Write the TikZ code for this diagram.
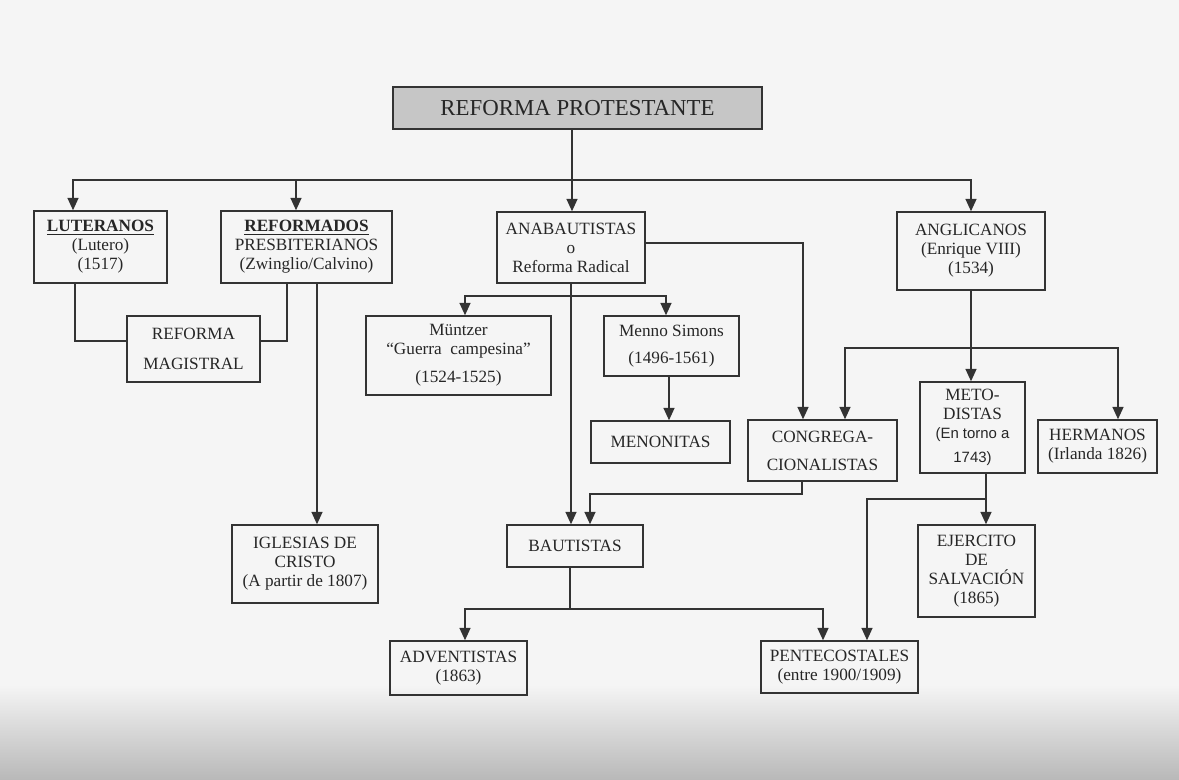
\documentclass[tikz,border=0pt]{standalone}
\usepackage{fontspec}
\setmainfont{Liberation Serif}
\newfontfamily\arialfont{Liberation Sans}
\usetikzlibrary{arrows.meta}

\begin{document}
\begin{tikzpicture}[
    x=0.02cm, y=-0.02cm,
    box/.style={draw=black!80, line width=0.85pt, align=center, inner sep=0pt, text=black!85, font=\fontsize{9.8}{10.8}\selectfont},
    titlebox/.style={box, fill=gray!45, font=\fontsize{13}{15}\selectfont},
    link/.style={draw=black!80, line width=0.85pt},
    arrow/.style={link, -{Triangle[length=7pt, width=6.2pt]}}
]

% page
\useasboundingbox (0,0) rectangle (1179,779);
\fill[gray!8] (0,0) rectangle (1179,779);
\shade[top color=gray!8, bottom color=gray!55] (0,685) rectangle (1179,779);

% title
\node[titlebox, minimum width=7.38cm, minimum height=0.84cm] (title) at (577.5,108) {REFORMA PROTESTANTE};

% first row
\node[box, minimum width=2.66cm, minimum height=1.44cm] (lut) at (100.5,247) {\textbf{\underline{LUTERANOS}}\\(Lutero)\\(1517)};
\node[box, minimum width=3.42cm, minimum height=1.44cm] (ref) at (306.5,247) {\textbf{\underline{REFORMADOS}}\\PRESBITERIANOS\\(Zwinglio/Calvino)};
\node[box, minimum width=2.96cm, minimum height=1.42cm] (ana) at (571,247.5) {ANABAUTISTAS\\o\\Reforma Radical};
\node[box, minimum width=2.96cm, minimum height=1.56cm] (ang) at (971,251) {ANGLICANOS\\(Enrique VIII)\\(1534)};

% second row
\node[box, minimum width=2.66cm, minimum height=1.32cm] (mag) at (193.5,349) {REFORMA\\[6pt]MAGISTRAL};
\node[box, minimum width=3.7cm, minimum height=1.58cm] (mun) at (458.5,355.5) {Müntzer\\“Guerra\ \ campesina”\\[5pt](1524-1525)};
\node[box, minimum width=2.7cm, minimum height=1.2cm] (men) at (671.5,346) {Menno Simons\\[5pt](1496-1561)};
\node[box, minimum width=2.78cm, minimum height=0.84cm] (meno) at (660.5,442) {MENONITAS};
\node[box, minimum width=2.98cm, minimum height=1.22cm] (con) at (822.5,450.5) {CONGREGA-\\[5pt]CIONALISTAS};
\node[box, minimum width=2.1cm, minimum height=1.82cm] (met) at (972.5,427.5) {METO-\\DISTAS\\{\arialfont\fontsize{8.5}{10}\selectfont(En torno a}\\[3pt]{\arialfont\fontsize{8.5}{10}\selectfont 1743)}};
\node[box, minimum width=2.38cm, minimum height=1.06cm] (her) at (1097.5,446.5) {HERMANOS\\(Irlanda 1826)};

% third row
\node[box, minimum width=2.92cm, minimum height=1.56cm] (igl) at (305,564) {IGLESIAS DE\\CRISTO\\(A partir de 1807)};
\node[box, minimum width=2.72cm, minimum height=0.84cm] (bau) at (575,546) {BAUTISTAS};
\node[box, minimum width=2.34cm, minimum height=1.84cm] (ejc) at (976.5,571) {EJERCITO\\DE\\SALVACIÓN\\(1865)};
\node[box, minimum width=2.74cm, minimum height=1.08cm] (adv) at (458.5,668) {ADVENTISTAS\\(1863)};
\node[box, minimum width=3.14cm, minimum height=1.04cm] (pen) at (839.5,667) {PENTECOSTALES\\(entre 1900/1909)};

% junctions
\coordinate (bus) at (572,180);
\coordinate (anafork) at (571,296);
\coordinate (angfork) at (972,348);
\coordinate (conbend) at (590,494);
\coordinate (metfork) at (986,499);
\coordinate (baufork) at (570,609);

% from the title
\draw[link] (title.south -| bus) -- (bus);
\draw[arrow] (bus) -| ([xshift=-0.55cm]lut.north);
\draw[arrow] (bus) -| ([xshift=-0.21cm]ref.north);
\draw[arrow] (bus) -- (bus |- ana.north);
\draw[arrow] (bus) -| (ang.north);

% reforma magistral
\draw[link] ([xshift=-0.51cm]lut.south) |- ([yshift=0.16cm]mag.west);
\draw[link] ([xshift=-0.39cm]ref.south) |- ([yshift=0.16cm]mag.east);
\draw[arrow] ([xshift=0.21cm]ref.south) -- ([xshift=0.21cm]ref.south |- igl.north);

% anabautistas
\draw[arrow] (ana.south) -- (ana.south |- bau.north);
\draw[arrow] (anafork) -| ([xshift=0.13cm]mun.north);
\draw[arrow] (anafork) -| ([xshift=-0.11cm]men.north);
\draw[arrow] ([xshift=-0.05cm]men.south) -- ([xshift=-0.05cm]men.south |- meno.north);
\draw[arrow] ([yshift=0.09cm]ana.east) -| ([xshift=-0.39cm]con.north);

% anglicanos
\draw[arrow] (ang.south) -- (ang.south |- met.north);
\draw[arrow] (angfork) -| ([xshift=0.45cm]con.north);
\draw[arrow] (angfork) -| ([xshift=0.41cm]her.north);

% congregacionalistas
\draw[arrow] ([xshift=-0.41cm]con.south) |- (conbend) -- (conbend |- bau.north);

% metodistas
\draw[arrow] ([xshift=0.27cm]met.south) -- ([xshift=0.27cm]met.south |- ejc.north);
\draw[arrow] (metfork) -| ([xshift=0.55cm]pen.north);

% bautistas
\draw[link] (bau.south -| baufork) -- (baufork);
\draw[arrow] (baufork) -| ([xshift=0.13cm]adv.north);
\draw[arrow] (baufork) -| ([xshift=-0.33cm]pen.north);

\end{tikzpicture}
\end{document}
